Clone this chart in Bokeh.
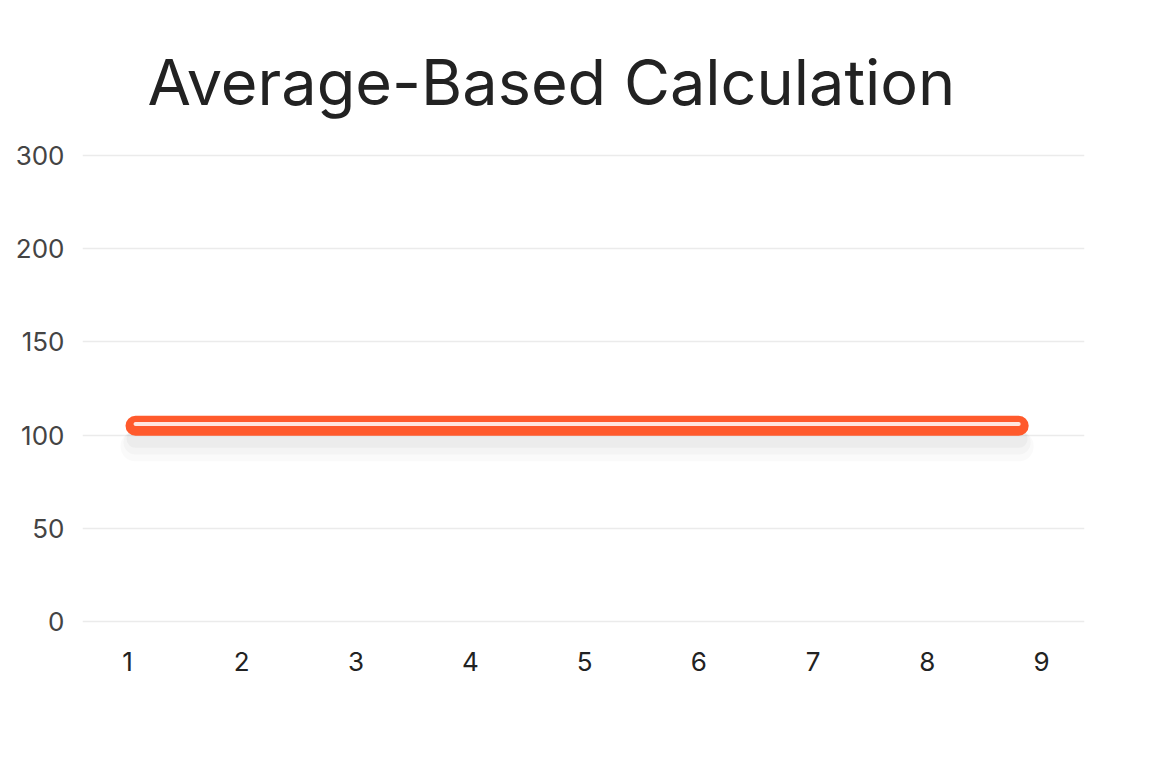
from bokeh.plotting import figure
from bokeh.models import Range1d, FixedTicker, Title
from bokeh.embed import file_html
from bokeh.resources import INLINE

# Data
periods = [1.07, 2, 3, 4, 5, 6, 7, 8, 8.8]
values = [105, 105, 105, 105, 105, 105, 105, 105, 105]
x_ticks = [1, 2, 3, 4, 5, 6, 7, 8, 9]
y_ticks = [0, 50, 100, 150, 200, 250]
y_tick_labels = ["0", "50", "100", "150", "200", "300"]

p = figure(width=1136, height=752, output_backend="svg", toolbar_location=None,
           x_range=Range1d(0.606, 9.376), y_range=Range1d(-4.83, 257.0),
           min_border_left=82, min_border_right=52, min_border_top=142, min_border_bottom=122)
p.title = Title(text="Average-Based Calculation", text_font="Inter", text_font_size="63px",
                text_font_style="normal", text_color="#222222", align="left", offset=65,
                standoff=46)
p.outline_line_color = None
p.background_fill_color = "white"
p.border_fill_color = "white"

p.xgrid.grid_line_color = None
p.ygrid.grid_line_color = "#ebebeb"
p.ygrid.grid_line_width = 1.5

p.yaxis.ticker = FixedTicker(ticks=y_ticks)
p.yaxis.major_label_overrides = {t: l for t, l in zip(y_ticks, y_tick_labels)}
p.xaxis.ticker = FixedTicker(ticks=x_ticks)
for ax in (p.xaxis, p.yaxis):
    ax.axis_line_color = None
    ax.major_tick_line_color = None
    ax.minor_tick_line_color = None
    ax.major_label_text_font = "Inter"
    ax.major_label_text_font_size = "26px"
p.yaxis.major_label_text_color = "#444444"
p.xaxis.major_label_text_color = "#222222"
p.yaxis.major_label_standoff = 12
p.xaxis.major_label_standoff = 15

# soft shadow under the line
for off, w, a in [(11, 30, 0.04), (9, 24, 0.05), (7, 18, 0.07)]:
    p.line(periods, [v - off for v in values], line_color="#888888", line_width=w,
           line_alpha=a, line_cap="round")
# main line
p.line(periods, values, line_color="#ff5a2c", line_width=20, line_cap="round")
# inner highlight
p.line(periods, [v + 1.0 for v in values], line_color="white", line_width=4,
       line_alpha=0.85, line_cap="round")

open("out.html", "w").write(file_html(p, INLINE))
